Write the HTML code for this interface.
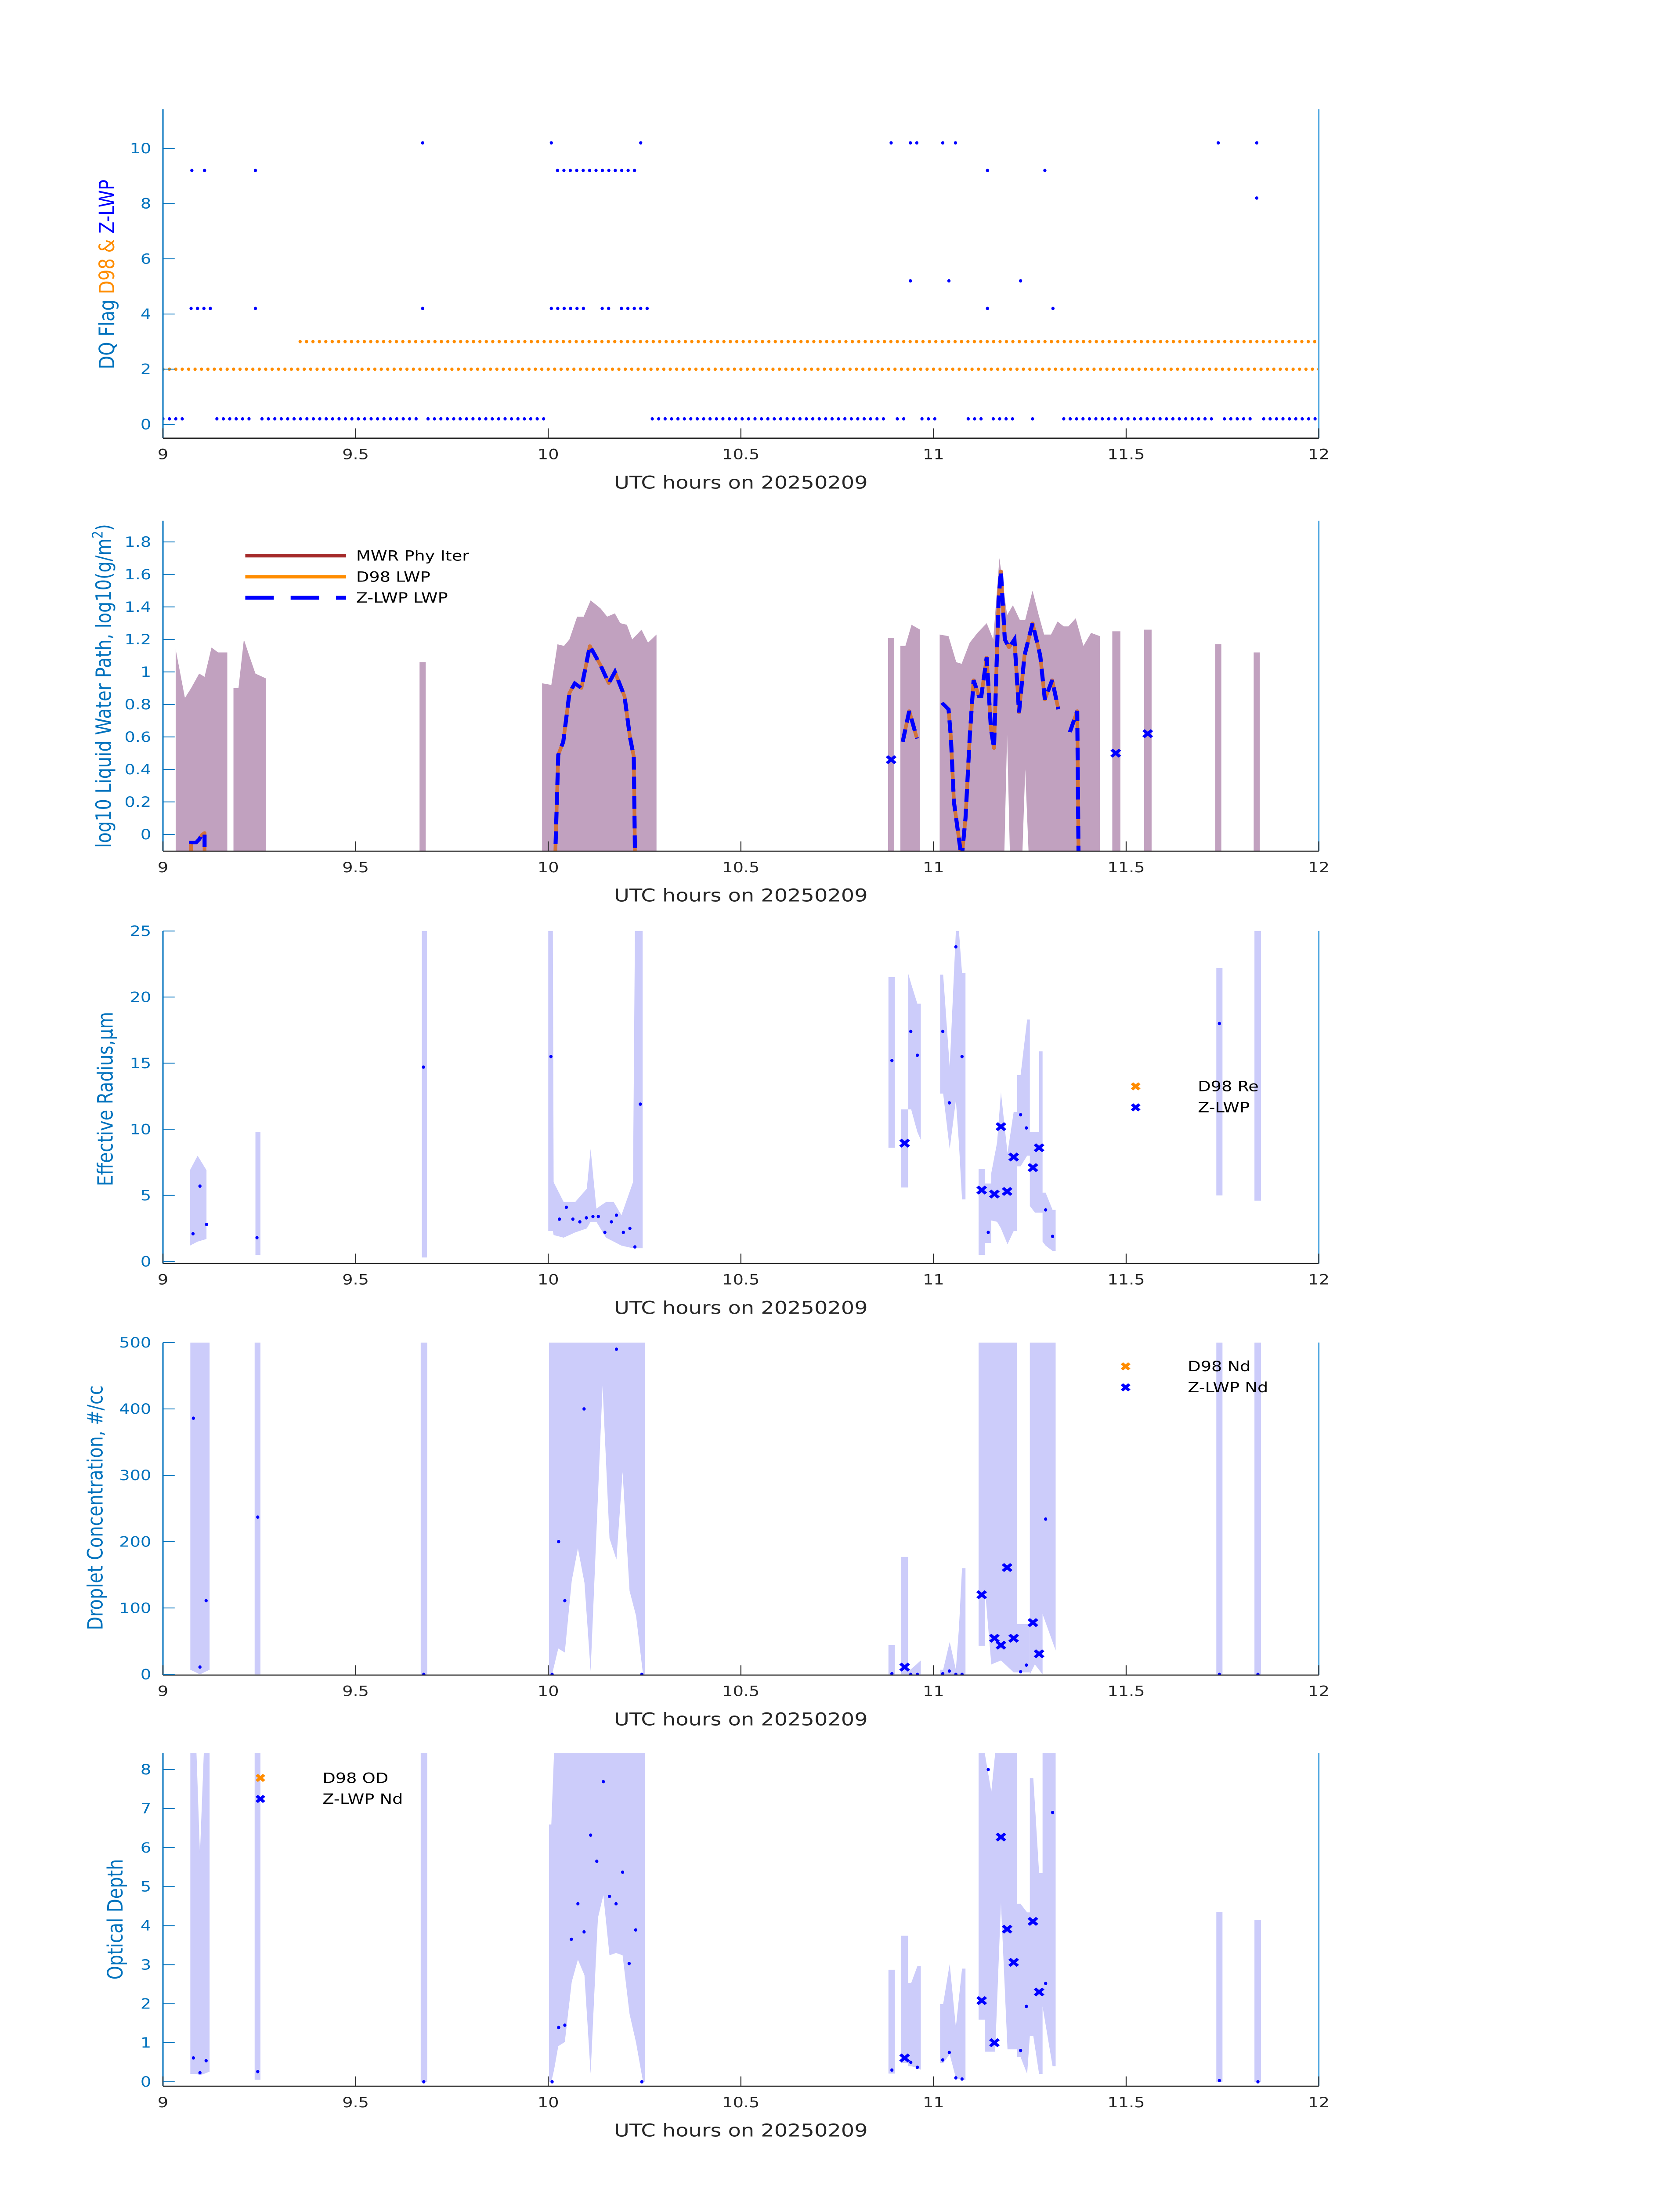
<!DOCTYPE html>
<html><head><meta charset="utf-8">
<style>
html,body{margin:0;padding:0;background:#fff;width:100vw;height:100vh;overflow:hidden;}
svg{display:block;position:absolute;left:0;top:0;width:100vw;height:100vh;}
text{font-family:"DejaVu Sans","Liberation Sans",sans-serif;}
</style></head>
<body>
<svg id="fig" xmlns="http://www.w3.org/2000/svg" width="100%" height="100%" viewBox="0 0 1000 1568.63" preserveAspectRatio="none">
<rect width="1000" height="1568.63" fill="#fff"/>
</svg>
<script>
// ---------- Panel 1: DQ flags (runs: [startHour, endHour, flagValue]) ----------
const zlwpFlagRuns = [[9.0,9.06,0.2],[9.14,9.226,0.2],[9.257,9.66,0.2],[9.688,9.99,0.2],[10.27,10.876,0.2],[10.906,10.925,0.2],[10.97,11.008,0.2],[11.09,11.124,0.2],[11.155,11.21,0.2],[11.257,11.273,0.2],[11.338,11.725,0.2],[11.755,11.823,0.2],[11.857,12.0,0.2],
 [9.073,9.126,4.2],[9.24,9.24,4.2],[9.674,9.674,4.2],[10.008,10.092,4.2],[10.14,10.159,4.2],[10.19,10.257,4.2],[11.14,11.14,4.2],[11.31,11.324,4.2],
 [9.075,9.075,9.2],[9.108,9.108,9.2],[9.24,9.24,9.2],[10.024,10.224,9.2],[11.14,11.14,9.2],[11.289,11.305,9.2],
 [9.674,9.674,10.2],[10.008,10.008,10.2],[10.24,10.24,10.2],[10.89,10.89,10.2],[10.94,10.957,10.2],[11.024,11.024,10.2],[11.057,11.073,10.2],[11.739,11.739,10.2],[11.839,11.839,10.2],
 [11.839,11.839,8.2],[10.94,10.94,5.2],[11.04,11.04,5.2],[11.226,11.24,5.2]];
const d98FlagRuns = [[9.0,12.0,2],[9.356,12.0,3]];

// ---------- Panel 2: LWP ----------
const lwpBandSegs = [
 [[9.033,1.14],[9.057,0.84],[9.073,0.9],[9.094,0.99],[9.108,0.97],[9.126,1.15],[9.143,1.12],[9.167,1.12]],
 [[9.183,0.9],[9.196,0.9],[9.21,1.2],[9.224,1.1],[9.24,0.99],[9.267,0.96]],
 [[9.666,1.06],[9.682,1.06]],
 [[9.984,0.93],[10.008,0.92],[10.024,1.17],[10.041,1.16],[10.055,1.2],[10.075,1.34],[10.092,1.34],[10.11,1.44],[10.136,1.39],[10.153,1.34],[10.173,1.36],[10.187,1.3],[10.204,1.29],[10.218,1.2],[10.242,1.26],[10.259,1.18],[10.281,1.23]],
 [[10.882,1.21],[10.898,1.21]],
 [[10.914,1.16],[10.927,1.16],[10.943,1.29],[10.965,1.26]],
 [[11.016,1.23],[11.039,1.22],[11.059,1.06],[11.073,1.05],[11.094,1.18],[11.114,1.24],[11.138,1.3],[11.155,1.2],[11.171,1.7],[11.191,1.35],[11.206,1.41],[11.224,1.32],[11.238,1.32],[11.257,1.5],[11.273,1.35],[11.287,1.23],[11.305,1.23],[11.322,1.31],[11.338,1.28],[11.35,1.28],[11.369,1.33],[11.389,1.16],[11.409,1.24],[11.432,1.22]],
 [[11.464,1.25],[11.485,1.25]],
 [[11.546,1.26],[11.566,1.26]],
 [[11.731,1.17],[11.747,1.17]],
 [[11.831,1.12],[11.847,1.12]]];
const lwpBandNotches = [[11.182,-0.3],[11.191,0.62],[11.2,-0.3],[11.228,-0.3],[11.238,0.4],[11.25,-0.3]];
const lwpLineSegs = [
 [[9.073,-0.3],[9.073,-0.05],[9.086,-0.05],[9.094,-0.03],[9.102,0.0],[9.108,0.01],[9.108,-0.3]],
 [[10.016,-0.3],[10.026,0.49],[10.039,0.57],[10.055,0.87],[10.069,0.93],[10.086,0.9],[10.108,1.16],[10.136,1.04],[10.157,0.93],[10.173,1.0],[10.198,0.85],[10.212,0.6],[10.222,0.48],[10.226,-0.3]],
 [[10.92,0.57],[10.937,0.76],[10.957,0.59]],
 [[11.022,0.81],[11.039,0.77],[11.045,0.6],[11.053,0.2],[11.073,-0.15],[11.083,0.1],[11.094,0.6],[11.104,0.95],[11.118,0.85],[11.124,0.85],[11.138,1.09],[11.149,0.65],[11.157,0.53],[11.169,1.45],[11.175,1.62],[11.185,1.2],[11.196,1.15],[11.21,1.2],[11.222,0.75],[11.236,1.1],[11.257,1.3],[11.277,1.1],[11.289,0.83],[11.308,0.95],[11.324,0.77]],
 [[11.354,0.63],[11.373,0.76],[11.377,-0.3]]];
const lwpMarkT = [10.89,11.473,11.556];
const lwpMarkV = [0.46,0.5,0.62];

// ---------- Panel 3: Effective radius ----------
const reBandSegs = [
 [[9.07,1.2,6.9],[9.09,1.5,8.0],[9.113,1.7,6.9]],
 [[9.24,0.5,9.8],[9.253,0.5,9.8]],
 [[9.672,0.3,25],[9.685,0.3,25]],
 [[10.0,2.3,25],[10.012,2.3,25],[10.014,2.0,6.0],[10.04,1.8,4.5],[10.07,2.2,4.5],[10.1,2.5,5.5],[10.11,3.0,8.5],[10.125,3,4],[10.15,1.8,4.5],[10.17,1.5,4.5],[10.19,1.2,3.5],[10.22,1.0,6.0],[10.225,1.0,25],[10.245,1.0,25]],
 [[10.883,8.6,21.5],[10.9,8.6,21.5]],
 [[10.916,5.6,11.5],[10.934,5.6,11.5]],
 [[10.934,11.5,21.8],[10.942,11.5,21.0],[10.958,9.8,19.5],[10.967,9.2,19.5]],
 [[11.017,12.7,21.7],[11.025,12.7,21.7],[11.042,8.5,14.7],[11.058,12.2,25],[11.066,8.9,25],[11.074,4.7,21.8],[11.083,4.7,21.8]],
 [[11.117,0.5,7.0],[11.133,0.5,7.0],[11.133,1.4,5.9],[11.15,1.4,5.9],[11.15,3.1,6.7],[11.165,3.0,9],[11.175,2.5,12.8],[11.192,1.3,8.2],[11.208,2.3,11.3],[11.217,2.3,11.3],[11.217,7.2,14.1],[11.226,7.2,14.1],[11.243,8.0,18.3],[11.25,8.0,18.3],[11.25,4.2,9.8],[11.263,3.7,9.8],[11.274,3.7,9.8],[11.274,3.7,15.9],[11.283,3.7,15.9],[11.283,1.5,5.2],[11.291,1.2,5.2],[11.309,0.8,3.9],[11.317,0.8,3.9]],
 [[11.734,5.0,22.2],[11.75,5.0,22.2]],
 [[11.833,4.6,25],[11.85,4.6,25]]];
const reDotT = [9.078,9.096,9.113,9.244,9.676,10.007,10.029,10.047,10.064,10.082,10.099,10.116,10.13,10.147,10.164,10.177,10.195,10.212,10.225,10.239,10.892,10.941,10.958,11.024,11.041,11.058,11.074,11.142,11.226,11.241,11.291,11.309,11.742];
const reDotV = [2.1,5.7,2.8,1.8,14.7,15.5,3.2,4.1,3.2,3.0,3.3,3.4,3.4,2.2,3.0,3.5,2.2,2.5,1.1,11.9,15.2,17.4,15.6,17.4,12.0,23.8,15.5,2.2,11.1,10.1,3.9,1.9,18.0];
const reMarkT = [10.925,11.125,11.158,11.175,11.191,11.208,11.258,11.274];
const reMarkV = [8.95,5.4,5.1,10.2,5.3,7.9,7.1,8.6];

// ---------- Panel 4: Droplet concentration ----------
const ndBandSegs = [
 [[9.071,7,500],[9.096,0,500],[9.121,7,500]],
 [[9.238,0,500],[9.253,0,500]],
 [[9.669,0,500],[9.686,0,500]],
 [[10.002,0,500],[10.01,0,500],[10.026,39,500],[10.043,33,500],[10.061,141,500],[10.077,190,500],[10.094,138,500],[10.11,5,500],[10.141,435,500],[10.159,205,500],[10.177,173,500],[10.193,305,500],[10.211,126,500],[10.228,88,500],[10.246,0,500],[10.251,0,500]],
 [[10.883,0,44],[10.9,0,44]],
 [[10.916,0,177],[10.934,0,177]],
 [[10.934,0,5],[10.942,0,8],[10.967,0,21]],
 [[11.017,0,7],[11.025,0,7],[11.042,0,49],[11.058,0,7],[11.066,0,70],[11.074,0,160],[11.083,0,160]],
 [[11.117,43,500],[11.133,43,500],[11.133,132,500],[11.15,15,500],[11.175,21,500],[11.208,3,500],[11.217,3,500]],
 [[11.217,3,76],[11.25,3,76]],
 [[11.25,0,500],[11.263,15,500],[11.283,0,500],[11.283,91,500],[11.317,36,500]],
 [[11.734,0,500],[11.75,0,500]],
 [[11.833,0,500],[11.85,0,500]]];
const ndDotT = [9.079,9.096,9.112,9.246,9.677,10.01,10.027,10.043,10.093,10.177,10.243,10.892,10.941,10.958,11.024,11.041,11.058,11.074,11.226,11.241,11.291,11.742,11.842];
const ndDotV = [386,11,111,237,0,0,200,111,400,490,0,1,0,0,1,5,0,0,4,14,234,0,0];
const ndMarkT = [10.925,11.125,11.158,11.175,11.191,11.208,11.258,11.274];
const ndMarkV = [11,120,54.5,44,161,54.5,78,31];

// ---------- Panel 5: Optical depth ----------
const odBandSegs = [
 [[9.071,0.2,8.42],[9.087,0.2,8.42],[9.096,0.17,5.83],[9.106,0.2,8.42],[9.121,0.26,8.42]],
 [[9.238,0.05,8.42],[9.253,0.05,8.42]],
 [[9.669,0,8.42],[9.686,0,8.42]],
 [[10.002,0,6.59],[10.008,0,6.59],[10.015,0.3,8.42],[10.026,0.91,8.42],[10.043,1.02,8.42],[10.061,2.56,8.42],[10.077,3.13,8.42],[10.094,2.73,8.42],[10.11,0.21,8.42],[10.124,3.2,8.42],[10.129,4.2,8.42],[10.143,4.78,8.42],[10.159,3.24,8.42],[10.176,3.3,8.42],[10.193,3.24,8.42],[10.211,1.74,8.42],[10.228,1.0,8.42],[10.246,0,8.42],[10.251,0,8.42]],
 [[10.883,0.21,2.87],[10.9,0.21,2.87]],
 [[10.916,0.48,3.74],[10.934,0.48,3.74]],
 [[10.934,0.4,2.53],[10.942,0.4,2.53],[10.958,0.35,2.96],[10.967,0.31,2.96]],
 [[11.017,0.48,1.99],[11.025,0.48,1.99],[11.042,0.7,3.02],[11.058,0.1,1.4],[11.074,0.05,2.9],[11.083,0.05,2.9]],
 [[11.117,1.59,8.42],[11.133,1.59,8.42],[11.133,0.77,8.42],[11.15,0.77,7.43],[11.16,0.77,8.42],[11.175,4.58,8.42],[11.192,0.83,8.42],[11.217,0.83,8.42],[11.217,0.63,4.56],[11.226,0.63,4.56],[11.243,0.2,4.34],[11.25,1.17,4.34],[11.25,1.17,7.78],[11.259,1.17,7.78],[11.274,0.2,5.35],[11.283,0.2,5.35],[11.283,1.93,8.42],[11.309,0.4,8.42],[11.317,0.4,8.42]],
 [[11.734,0,4.35],[11.75,0,4.35]],
 [[11.833,0,4.15],[11.85,0,4.15]]];
const odDotT = [9.079,9.096,9.112,9.246,9.677,10.01,10.027,10.043,10.06,10.077,10.093,10.11,10.126,10.143,10.159,10.176,10.193,10.21,10.227,10.243,10.892,10.941,10.958,11.024,11.041,11.058,11.074,11.142,11.226,11.241,11.291,11.309,11.742,11.842];
const odDotV = [0.61,0.23,0.54,0.26,0,0,1.39,1.45,3.65,4.56,3.84,6.32,5.65,7.69,4.75,4.56,5.37,3.03,3.89,0,0.3,0.5,0.37,0.56,0.75,0.1,0.07,8.0,0.8,1.93,2.52,6.9,0.03,0];
const odMarkT = [10.925,11.125,11.158,11.175,11.191,11.208,11.258,11.274];
const odMarkV = [0.61,2.08,1.0,6.27,3.91,3.06,4.11,2.3];

const xTicks = [9,9.5,10,10.5,11,11.5,12];
const xTickLabels = ["9","9.5","10","10.5","11","11.5","12"];
const p1Ticks = [0,2,4,6,8,10];
const p2Ticks = [0,0.2,0.4,0.6,0.8,1,1.2,1.4,1.6,1.8];
const p3Ticks = [0,5,10,15,20,25];
const p4Ticks = [0,100,200,300,400,500];
const p5Ticks = [0,1,2,3,4,5,6,7,8];

// ---------- drawing ----------
const NS = "http://www.w3.org/2000/svg";
const svg = document.getElementById('fig');
const L = 97, R = 785, XMIN = 9, XMAX = 12;
const AXC = "#0072bd";
function el(tag, attrs, parent) {
  const e = document.createElementNS(NS, tag);
  for (const k in attrs) e.setAttribute(k, attrs[k]);
  (parent || svg).appendChild(e);
  return e;
}
function makeAxes(id, top, bot, ymin, ymax) {
  const g = el('g', {});
  
  
  const clip = el('clipPath', {id: id + '-clip'}, g);
  el('rect', {x: L, y: top, width: R - L, height: bot - top}, clip);
  const plot = el('g', {'clip-path': 'url(#' + id + '-clip)'}, g);
  
  
  const x = t => L + (t - XMIN) / (XMAX - XMIN) * (R - L);
  const y = v => bot - (v - ymin) / (ymax - ymin) * (bot - top);
  return {g, plot, x, y, top, bot};
}
function frame(ax, yTicks, yLabelsFn) {
  const g = ax.g;
  const xa = el('line', {x1: L, y1: ax.bot, x2: R, y2: ax.bot, stroke: '#262626', 'stroke-width': 0.8}, g);
  
  
  const ya = el('line', {x1: L, y1: ax.top, x2: L, y2: ax.bot, stroke: AXC, 'stroke-width': 0.8}, g);
  
  
  const ra = el('line', {x1: R, y1: ax.top, x2: R, y2: ax.bot, stroke: '#4da6e0', 'stroke-width': 0.8}, g);
  
  
  xTicks.forEach((t, i) => {
    el('line', {x1: ax.x(t), y1: ax.bot, x2: ax.x(t), y2: ax.bot - 7, stroke: '#262626', 'stroke-width': 0.6}, g);
    const tx = el('text', {x: ax.x(t), y: ax.bot + 15, 'font-size': 10, 'text-anchor': 'middle', fill: '#262626'}, g);
    tx.textContent = xTickLabels[i];
    
    
  });
  yTicks.forEach(v => {
    el('line', {x1: L, y1: ax.y(v), x2: L + 7, y2: ax.y(v), stroke: AXC, 'stroke-width': 0.6}, g);
    const tx = el('text', {x: L - 7, y: ax.y(v) + 3.5, 'font-size': 10, 'text-anchor': 'end', fill: AXC}, g);
    tx.textContent = yLabelsFn(v);
    
    
  });
  const xl = el('text', {x: 441, y: ax.bot + 36, 'font-size': 12.5, 'text-anchor': 'middle', fill: '#262626'}, g);
  xl.textContent = 'UTC hours on 20250209';
  
  
}
function yTitle(ax, xpos, ycen, txt) {
  const t = el('text', {x: 0, y: 0, 'font-size': 12.5, 'text-anchor': 'middle', fill: AXC, transform: 'translate(' + xpos + ',' + ycen + ') rotate(-90)'}, ax.g);
  t.textContent = txt;
  
  
  return t;
}
function bandPoly(ax, seg, fill, name) {
  const pts = seg.map(p => ax.x(p[0]) + ',' + ax.y(p[2])).concat(seg.slice().reverse().map(p => ax.x(p[0]) + ',' + ax.y(p[1])));
  const p = el('polygon', {points: pts.join(' '), fill: fill}, ax.plot);
  
  
}
function dot(ax, t, v, color, r, name) {
  const c = el('ellipse', {cx: ax.x(t), cy: ax.y(v), rx: r * 0.8, ry: r, fill: color}, ax.plot);
  
  
}
function xMark(parent, cx, cy, color, s, name) {
  const d = 'M' + (cx - s) + ' ' + (cy - s) + 'L' + (cx + s) + ' ' + (cy + s) + 'M' + (cx - s) + ' ' + (cy + s) + 'L' + (cx + s) + ' ' + (cy - s);
  const p = el('path', {d: d, stroke: color, 'stroke-width': 2, fill: 'none'}, parent);
  
  
}
function legendText(parent, x, y, txt) {
  const t = el('text', {x: x, y: y + 3.5, 'font-size': 10, fill: '#000'}, parent);
  t.textContent = txt;
  
  
}
const fmt = v => String(Math.round(v * 10) / 10);

// Panel 1
const a1 = makeAxes('dq-flag', 78, 313, -0.5, 11.42);
d98FlagRuns.forEach(r => { for (let t = r[0]; t <= r[1] + 1e-6; t += 1 / 60) dot(a1, t, r[2], '#ff8c00', 1.2, 'd98-flag-point'); });
zlwpFlagRuns.forEach(r => { for (let t = r[0]; t <= r[1] + 1e-6; t += 1 / 60) dot(a1, t, r[2], '#0000ff', 1.2, 'zlwp-flag-point'); });
frame(a1, p1Ticks, fmt);
{
  const t = el('text', {x: 0, y: 0, 'font-size': 12.5, 'text-anchor': 'middle', transform: 'translate(68,196) rotate(-90)'}, a1.g);
  
  
  const s1 = el('tspan', {fill: AXC}, t); s1.textContent = 'DQ Flag  ';
  const s2 = el('tspan', {fill: '#ff8c00'}, t); s2.textContent = 'D98 &  ';
  const s3 = el('tspan', {fill: '#0000ff'}, t); s3.textContent = 'Z-LWP';
}

// Panel 2
const a2 = makeAxes('lwp', 372, 608, -0.103, 1.93);
lwpBandSegs.forEach(seg => bandPoly(a2, seg.map(p => [p[0], -0.3, p[1]]), '#c1a1bf', 'lwp-uncertainty-band'));
{
  const pts = lwpBandNotches.map(p => a2.x(p[0]) + ',' + a2.y(p[1])).join(' ');
  const n = el('polygon', {points: pts, fill: '#fff'}, a2.plot);
  
  
}
lwpLineSegs.forEach(seg => {
  const pts = seg.map(p => a2.x(p[0]) + ',' + a2.y(p[1])).join(' ');
  const o = el('polyline', {points: pts, fill: 'none', stroke: '#d2743a', 'stroke-width': 2.2, 'stroke-linejoin': 'round'}, a2.plot);
  
  
  const b = el('polyline', {points: pts, fill: 'none', stroke: '#0000ff', 'stroke-width': 2.4, 'stroke-dasharray': '9,5'}, a2.plot);
  
  
});
lwpMarkT.forEach((t, i) => xMark(a2.plot, a2.x(t), a2.y(lwpMarkV[i]), '#0000ff', 2.5, 'zlwp-lwp-marker'));
frame(a2, p2Ticks, fmt);
{
  const t = el('text', {x: 0, y: 0, 'font-size': 12.5, 'text-anchor': 'middle', fill: AXC, transform: 'translate(66,490) rotate(-90)'}, a2.g);
  
  
  const s1 = el('tspan', {}, t); s1.textContent = 'log10 Liquid Water Path, log10(g/m';
  const s2 = el('tspan', {'font-size': 8.5, dy: -5}, t); s2.textContent = '2';
  const s3 = el('tspan', {dy: 5}, t); s3.textContent = ')';
  const lg = el('g', {}, a2.g);
  
  
  el('line', {x1: 146, y1: 397, x2: 206, y2: 397, stroke: '#a52a2a', 'stroke-width': 2.4}, lg);
  el('line', {x1: 146, y1: 412, x2: 206, y2: 412, stroke: '#ff8c00', 'stroke-width': 2.4}, lg);
  el('line', {x1: 146, y1: 427, x2: 206, y2: 427, stroke: '#0000ff', 'stroke-width': 2.8, 'stroke-dasharray': '17,10'}, lg);
  legendText(lg, 212, 397, 'MWR Phy Iter');
  legendText(lg, 212, 412, 'D98 LWP');
  legendText(lg, 212, 427, 'Z-LWP LWP');
}

// Panel 3
const a3 = makeAxes('re', 665, 902.5, -0.15, 25);
reBandSegs.forEach(seg => bandPoly(a3, seg, '#ccccfa', 're-uncertainty-band'));
reDotT.forEach((t, i) => dot(a3, t, reDotV[i], '#0000ff', 1.2, 're-point'));
reMarkT.forEach((t, i) => xMark(a3.plot, a3.x(t), a3.y(reMarkV[i]), '#0000ff', 2.5, 'zlwp-re-marker'));
frame(a3, p3Ticks, fmt);
yTitle(a3, 67, 785, 'Effective Radius,\u03bcm');
{
  const lg = el('g', {}, a3.g);
  
  
  xMark(lg, 676, 776, '#ff8c00', 2.2, 'legend-marker');
  xMark(lg, 676, 791, '#0000ff', 2.2, 'legend-marker');
  legendText(lg, 713, 776, 'D98 Re');
  legendText(lg, 713, 791, 'Z-LWP');
}

// Panel 4
const a4 = makeAxes('nd', 959, 1196.5, -1, 500);
ndBandSegs.forEach(seg => bandPoly(a4, seg, '#ccccfa', 'nd-uncertainty-band'));
ndDotT.forEach((t, i) => dot(a4, t, ndDotV[i], '#0000ff', 1.2, 'nd-point'));
ndMarkT.forEach((t, i) => xMark(a4.plot, a4.x(t), a4.y(ndMarkV[i]), '#0000ff', 2.5, 'zlwp-nd-marker'));
frame(a4, p4Ticks, v => String(v));
yTitle(a4, 61, 1077, 'Droplet Concentration, #/cc');
{
  const lg = el('g', {}, a4.g);
  
  
  xMark(lg, 670, 976, '#ff8c00', 2.2, 'legend-marker');
  xMark(lg, 670, 991, '#0000ff', 2.2, 'legend-marker');
  legendText(lg, 707, 976, 'D98 Nd');
  legendText(lg, 707, 991, 'Z-LWP Nd');
}

// Panel 5
const a5 = makeAxes('od', 1252.3, 1490.2, -0.114, 8.42);
odBandSegs.forEach(seg => bandPoly(a5, seg, '#ccccfa', 'od-uncertainty-band'));
odDotT.forEach((t, i) => dot(a5, t, odDotV[i], '#0000ff', 1.2, 'od-point'));
odMarkT.forEach((t, i) => xMark(a5.plot, a5.x(t), a5.y(odMarkV[i]), '#0000ff', 2.5, 'zlwp-od-marker'));
frame(a5, p5Ticks, fmt);
yTitle(a5, 73, 1371, 'Optical Depth');
{
  const lg = el('g', {}, a5.g);
  
  
  xMark(lg, 155, 1270, '#ff8c00', 2.2, 'legend-marker');
  xMark(lg, 155, 1285, '#0000ff', 2.2, 'legend-marker');
  legendText(lg, 192, 1270, 'D98 OD');
  legendText(lg, 192, 1285, 'Z-LWP Nd');
}
</script>
</body></html>
